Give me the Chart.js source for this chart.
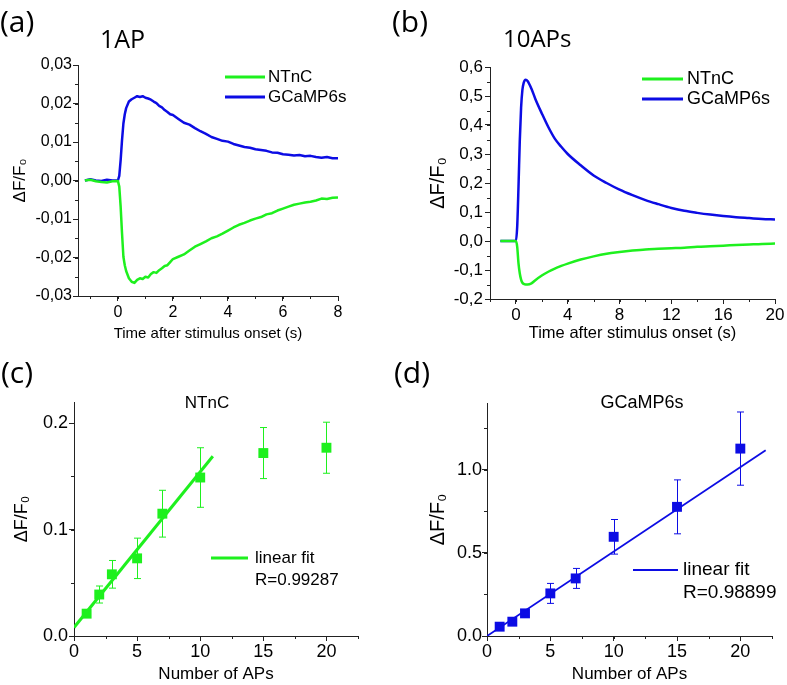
<!DOCTYPE html>
<html>
<head>
<meta charset="utf-8">
<title>NTnC vs GCaMP6s</title>
<script src="https://cdn.jsdelivr.net/npm/chart.js@4.4.1/dist/chart.umd.min.js"></script>
<style>
  body { margin: 0; background: #fff; }
  #fig { position: relative; width: 787px; height: 685px; overflow: hidden; }
  #fig canvas { position: absolute; left: 0; top: 0; }
  .lbl { position: absolute; white-space: nowrap; line-height: 1; color: #000; }
  .panel { font-family: 'Open Sans', sans-serif; }
  .ttl { font-family: 'Liberation Sans', Arial, sans-serif; text-align: center; width: 200px; }
</style>
</head>
<body>
<div id="fig">
  <canvas id="chartA" width="787" height="685"></canvas>
  <canvas id="chartB" width="787" height="685"></canvas>
  <canvas id="chartC" width="787" height="685"></canvas>
  <canvas id="chartD" width="787" height="685"></canvas>

  <div class="lbl panel" style="left:0;top:6px;font-size:30px">(a)</div>
  <div class="lbl panel" style="left:100px;top:26px;font-size:25px">1AP</div>
  <div class="lbl panel" style="left:392px;top:6px;font-size:30px">(b)</div>
  <div class="lbl panel" style="left:503px;top:26px;font-size:24px">10APs</div>
  <div class="lbl panel" style="left:1px;top:357px;font-size:30px">(c)</div>
  <div class="lbl ttl" style="left:107px;top:394px;font-size:17px">NTnC</div>
  <div class="lbl panel" style="left:394px;top:357px;font-size:30px">(d)</div>
  <div class="lbl ttl" style="left:542px;top:393px;font-size:18px">GCaMP6s</div>
</div>
<script>
// ---------- data ----------

// (a) 1 AP, averaged traces
const timeA = [-1.2, -1.0, -0.8, -0.6, -0.4, -0.2, 0, 0.05, 0.1, 0.15, 0.2, 0.25, 0.3,
  0.4, 0.5, 0.6, 0.7, 0.8, 0.9, 1.0, 1.1, 1.2, 1.3, 1.4, 1.5, 1.6, 1.7, 1.8, 1.9, 2.0,
  2.2, 2.4, 2.6, 2.8, 3.0, 3.2, 3.4, 3.6, 3.8, 4.0, 4.2, 4.4, 4.6, 4.8, 5.0,
  5.2, 5.4, 5.6, 5.8, 6.0, 6.2, 6.4, 6.6, 6.8, 7.0, 7.2, 7.4, 7.6, 7.8, 8.0];
const ntncA = [0.0000, 0.0002, -0.0002, -0.0004, -0.0005, -0.0002, -0.0001, -0.0016, -0.0068, -0.0137, -0.0198, -0.0220, -0.0235,
  -0.0254, -0.0263, -0.0266, -0.0258, -0.0254, -0.0256, -0.0250, -0.0252, -0.0243, -0.0238, -0.0240, -0.0233, -0.0228, -0.0222, -0.0220, -0.0212, -0.0204,
  -0.0198, -0.0192, -0.0182, -0.0172, -0.0165, -0.0158, -0.0150, -0.0145, -0.0138, -0.0130, -0.0122, -0.0115, -0.0110, -0.0104, -0.0099,
  -0.0095, -0.0088, -0.0085, -0.0078, -0.0073, -0.0068, -0.0063, -0.0060, -0.0057, -0.0055, -0.0052, -0.0047, -0.0048, -0.0045, -0.0044];
const gcampA = [0.0000, 0.0003, 0.0000, -0.0001, 0.0002, 0.0000, 0.0000, 0.0012, 0.0053, 0.0105, 0.0148, 0.0172, 0.0188,
  0.0205, 0.0211, 0.0215, 0.0219, 0.0217, 0.0219, 0.0215, 0.0213, 0.0210, 0.0205, 0.0201, 0.0194, 0.0190, 0.0183, 0.0178, 0.0172, 0.0170,
  0.0160, 0.0150, 0.0145, 0.0136, 0.0128, 0.0121, 0.0113, 0.0108, 0.0103, 0.0101, 0.0095, 0.0091, 0.0087, 0.0085, 0.0081,
  0.0079, 0.0077, 0.0073, 0.0072, 0.0068, 0.0067, 0.0065, 0.0066, 0.0063, 0.0064, 0.0061, 0.0059, 0.0061, 0.0058, 0.0058];
const ticksAX = [0, 2, 4, 6, 8];
const ticksAY = [-0.03, -0.02, -0.01, 0, 0.01, 0.02, 0.03];

// (b) 10 APs
const timeB = [-1.2, -0.8, -0.4, 0, 0.1, 0.2, 0.3, 0.4, 0.5, 0.6, 0.75, 0.9, 1.2, 1.5, 2, 2.5, 3, 3.5, 4,
  5, 6, 7, 8, 9, 10, 11, 12, 13, 14, 15, 16, 17, 18, 19, 20];
const ntncB = [0, 0, 0, 0, -0.02, -0.077, -0.112, -0.133, -0.144, -0.148, -0.150, -0.150, -0.146, -0.135, -0.119, -0.106, -0.095, -0.086, -0.078,
  -0.064, -0.053, -0.044, -0.038, -0.033, -0.029, -0.027, -0.025, -0.023, -0.020, -0.018, -0.016, -0.014, -0.012, -0.010, -0.009];
const gcampB = [0, 0, 0, 0, 0.05, 0.187, 0.347, 0.46, 0.52, 0.545, 0.556, 0.552, 0.525, 0.49, 0.44, 0.393, 0.353, 0.325, 0.30,
  0.261, 0.226, 0.2, 0.177, 0.158, 0.141, 0.127, 0.114, 0.104, 0.097, 0.091, 0.086, 0.082, 0.079, 0.076, 0.074];
const ticksBX = [0, 4, 8, 12, 16, 20];
const ticksBY = [-0.2, -0.1, 0, 0.1, 0.2, 0.3, 0.4, 0.5, 0.6];

// (c), (d) peak amplitude vs number of APs
const numAPs = [1, 2, 3, 5, 7, 10, 15, 20];
const ntncAmp = [0.021, 0.039, 0.058, 0.073, 0.115, 0.149, 0.172, 0.177];
const ntncErr = [0.003, 0.008, 0.013, 0.019, 0.022, 0.028, 0.024, 0.024];
const gcampAmp = [0.056, 0.086, 0.136, 0.256, 0.346, 0.596, 0.776, 1.126];
const gcampErr = [0.012, 0.012, 0.015, 0.06, 0.06, 0.104, 0.162, 0.22];
const ntncFitX = [0, 11];
const ntncFitY = [0.008, 0.169];
const gcampFitX = [0, 22];
const gcampFitY = [0, 1.116];
const ntncR = 'R=0.99287';
const gcampR = 'R=0.98899';
const ticksCX = [0, 5, 10, 15, 20];
const ticksCY = [0, 0.1, 0.2];
const ticksDY = [0, 0.5, 1.0];

// ---------- look ----------
const green = 'rgb(30,240,30)';
const blue = 'rgb(12,12,228)';
const axisColor = '#222';
const textColor = '#000';
const sansFont = "'Liberation Sans', Arial, sans-serif";
const yTitle = 'ΔF/F₀';

const xy = (xs, ys) => xs.map((x, i) => ({ x, y: ys[i] }));

function steps(min, max, step) {
  const out = [];
  for (let i = Math.ceil(min / step - 1e-9); i * step <= max + 1e-9; i++) out.push(i * step);
  return out;
}

// short ticks between the labelled ones
const minorTicks = {
  id: 'minorTicks',
  afterDraw(chart, args, opts) {
    const { ctx, chartArea: a, scales: { x, y } } = chart;
    ctx.save();
    ctx.strokeStyle = axisColor;
    ctx.lineWidth = 1;
    ctx.beginPath();
    steps(x.min, x.max, opts.x).forEach(v => {
      const px = Math.round(x.getPixelForValue(v)) + 0.5;
      ctx.moveTo(px, a.bottom);
      ctx.lineTo(px, a.bottom + opts.len);
    });
    steps(y.min, y.max, opts.y).forEach(v => {
      const py = Math.round(y.getPixelForValue(v)) + 0.5;
      ctx.moveTo(a.left - opts.len, py);
      ctx.lineTo(a.left, py);
    });
    ctx.stroke();
    ctx.restore();
  }
};

const errorBars = {
  id: 'errorBars',
  afterDatasetsDraw(chart) {
    const { ctx, scales: { x, y } } = chart;
    chart.data.datasets.forEach(ds => {
      if (!ds.errors) return;
      ctx.save();
      ctx.strokeStyle = ds.borderColor;
      ctx.lineWidth = 1;
      ctx.beginPath();
      ds.data.forEach((p, i) => {
        const px = Math.round(x.getPixelForValue(p.x)) + 0.5;
        const top = y.getPixelForValue(p.y + ds.errors[i]);
        const bot = y.getPixelForValue(p.y - ds.errors[i]);
        ctx.moveTo(px, top); ctx.lineTo(px, bot);
        ctx.moveTo(px - 3.5, top); ctx.lineTo(px + 3.5, top);
        ctx.moveTo(px - 3.5, bot); ctx.lineTo(px + 3.5, bot);
      });
      ctx.stroke();
      ctx.restore();
    });
  }
};

function insetLegend(l) {
  return {
    id: 'insetLegend',
    afterDraw(chart) {
      const ctx = chart.ctx;
      ctx.save();
      ctx.font = `${l.size}px ${sansFont}`;
      ctx.textBaseline = 'middle';
      ctx.fillStyle = textColor;
      l.rows.forEach((row, i) => {
        const y = l.y + i * l.gap;
        if (row.color) {
          ctx.strokeStyle = row.color;
          ctx.lineWidth = l.width;
          ctx.beginPath();
          ctx.moveTo(l.x, y);
          ctx.lineTo(l.x + l.len, y);
          ctx.stroke();
        }
        ctx.fillText(row.text, l.x + l.len + l.pad, y);
      });
      ctx.restore();
    }
  };
}

function makePanel(id, p) {
  const W = 787, H = 685;
  const padLeft = p.yTitleX - p.yTitleSize * 0.6;
  const xBottom = p.xTitleY + p.xTitleSize * 0.6;
  const tickFont = { family: sansFont, size: p.tickSize };
  return new Chart(document.getElementById(id), {
    type: 'scatter',
    data: { datasets: p.datasets },
    options: {
      responsive: false,
      animation: false,
      events: [],
      layout: { padding: { left: padLeft, top: p.area.top, right: W - p.area.right, bottom: H - xBottom } },
      plugins: {
        legend: { display: false },
        tooltip: { enabled: false },
        minorTicks: { x: p.minorX, y: p.minorY, len: 3 }
      },
      scales: {
        x: {
          type: 'linear',
          min: p.xMin,
          max: p.xMax,
          afterBuildTicks: s => { s.ticks = p.xTicks.map(v => ({ value: v })); },
          afterFit: s => { s.height = xBottom - p.area.bottom; },
          ticks: { font: tickFont, color: textColor, padding: p.xPad, maxRotation: 0, autoSkip: false, callback: v => String(v) },
          grid: { drawOnChartArea: false, tickLength: 5, color: axisColor },
          border: { color: axisColor },
          title: { display: true, text: p.xTitle, color: textColor, padding: 0, font: { family: sansFont, size: p.xTitleSize } }
        },
        y: {
          type: 'linear',
          min: p.yMin,
          max: p.yMax,
          afterBuildTicks: s => { s.ticks = p.yTicks.map(v => ({ value: v })); },
          afterFit: s => { s.width = p.area.left - padLeft; },
          ticks: { font: tickFont, color: textColor, padding: p.yPad, autoSkip: false, callback: p.yFormat },
          grid: { drawOnChartArea: false, tickLength: 5, color: axisColor },
          border: { color: axisColor },
          title: { display: true, text: yTitle, color: textColor, padding: 0, font: { family: sansFont, size: p.yTitleSize } }
        }
      }
    },
    plugins: [minorTicks, errorBars, insetLegend(p.legend)]
  });
}

const commaFmt = digits => v => v.toFixed(digits).replace('.', ',');
const trace = (label, color, data, width, smooth) => ({
  label, data, showLine: true, borderColor: color, backgroundColor: color,
  borderWidth: width, pointRadius: 0, borderJoinStyle: 'round',
  cubicInterpolationMode: smooth ? 'monotone' : 'default'
});
const points = (label, color, data, errors) => ({
  label, data, errors, pointStyle: 'rect', pointRadius: 7, pointBorderWidth: 0,
  backgroundColor: color, borderColor: color, showLine: false
});

// (a)
makePanel('chartA', {
  area: { left: 78, top: 65, right: 338, bottom: 296 },
  yTitleX: 20.5, yTitleSize: 17, xTitleY: 334, xTitleSize: 15,
  tickSize: 16, xPad: 2, yPad: 1,
  xMin: -1.45, xMax: 8, xTicks: ticksAX, minorX: 1, xTitle: 'Time after stimulus onset (s)',
  yMin: -0.03, yMax: 0.03, yTicks: ticksAY, minorY: 0.005, yFormat: commaFmt(2),
  datasets: [
    trace('NTnC', green, xy(timeA, ntncA), 2.5, false),
    trace('GCaMP6s', blue, xy(timeA, gcampA), 2.5, false)
  ],
  legend: { x: 225, y: 77, gap: 20, len: 40, pad: 3, width: 3, size: 17,
    rows: [{ text: 'NTnC', color: green }, { text: 'GCaMP6s', color: blue }] }
});

// (b)
makePanel('chartB', {
  area: { left: 490, top: 67, right: 775, bottom: 299 },
  yTitleX: 438, yTitleSize: 20, xTitleY: 333, xTitleSize: 16.5,
  tickSize: 17, xPad: 1, yPad: 2,
  xMin: -2, xMax: 20, xTicks: ticksBX, minorX: 2, xTitle: 'Time after stimulus onset (s)',
  yMin: -0.2, yMax: 0.6, yTicks: ticksBY, minorY: 0.05, yFormat: commaFmt(1),
  datasets: [
    trace('NTnC', green, xy(timeB, ntncB), 2.5, true),
    trace('GCaMP6s', blue, xy(timeB, gcampB), 2.5, true)
  ],
  legend: { x: 642, y: 79, gap: 20, len: 41, pad: 4, width: 3, size: 18,
    rows: [{ text: 'NTnC', color: green }, { text: 'GCaMP6s', color: blue }] }
});

// (c)
makePanel('chartC', {
  area: { left: 74, top: 402, right: 358, bottom: 636 },
  yTitleX: 22, yTitleSize: 18, xTitleY: 674, xTitleSize: 17,
  tickSize: 18, xPad: 0, yPad: 1,
  xMin: 0, xMax: 22.5, xTicks: ticksCX, minorX: 2.5, xTitle: 'Number of APs',
  yMin: 0, yMax: 0.22, yTicks: ticksCY, minorY: 0.05, yFormat: v => v.toFixed(1),
  datasets: [
    trace('linear fit', green, xy(ntncFitX, ntncFitY), 3, false),
    points('NTnC', green, xy(numAPs, ntncAmp), ntncErr)
  ],
  legend: { x: 211, y: 558, gap: 22, len: 37, pad: 7, width: 3, size: 17,
    rows: [{ text: 'linear fit', color: green }, { text: ntncR }] }
});

// (d)
makePanel('chartD', {
  area: { left: 487, top: 403, right: 772, bottom: 636 },
  yTitleX: 438, yTitleSize: 20, xTitleY: 674, xTitleSize: 17,
  tickSize: 18, xPad: 0, yPad: 0,
  xMin: 0, xMax: 22.5, xTicks: ticksCX, minorX: 2.5, xTitle: 'Number of APs',
  yMin: 0, yMax: 1.4, yTicks: ticksDY, minorY: 0.25, yFormat: v => v.toFixed(1),
  datasets: [
    trace('linear fit', blue, xy(gcampFitX, gcampFitY), 1.8, false),
    points('GCaMP6s', blue, xy(numAPs, gcampAmp), gcampErr)
  ],
  legend: { x: 633, y: 570, gap: 23, len: 45, pad: 5, width: 2, size: 19,
    rows: [{ text: 'linear fit', color: blue }, { text: gcampR }] }
});
</script>
</body>
</html>
